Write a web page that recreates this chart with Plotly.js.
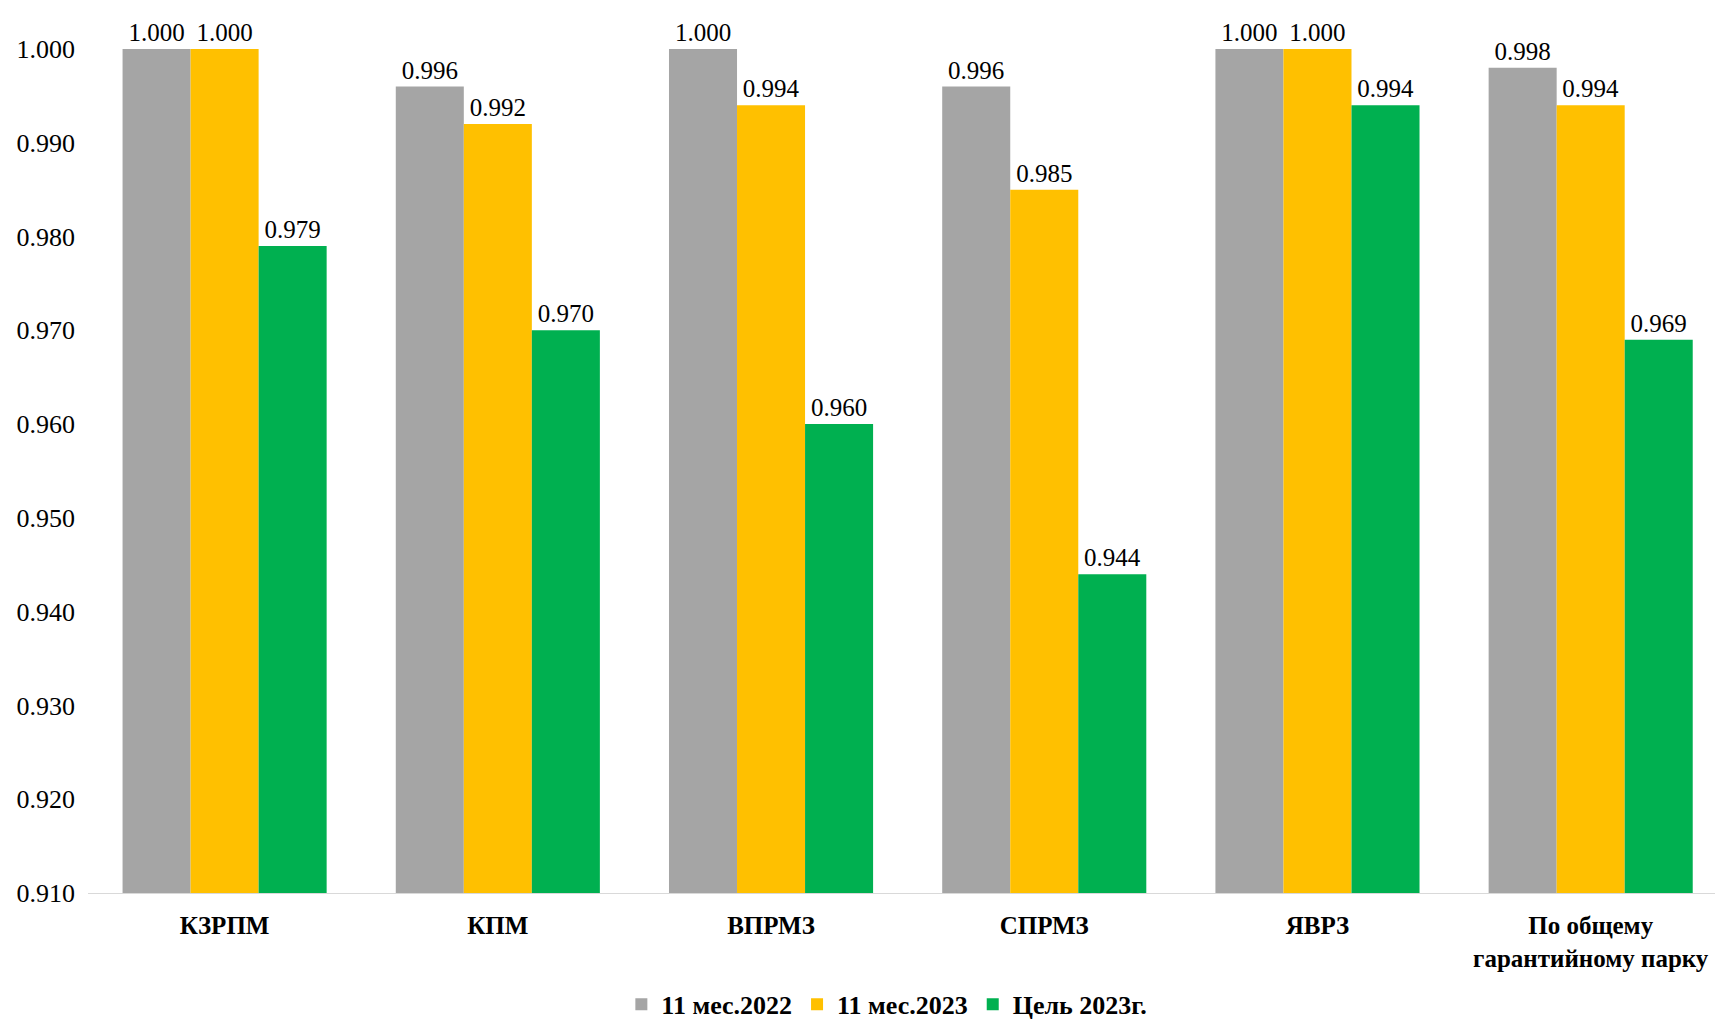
<!DOCTYPE html>
<html>
<head>
<meta charset="utf-8">
<script src="https://cdn.plot.ly/plotly-3.0.1.min.js"></script>
<style>html,body{margin:0;padding:0;background:#fff;}#chart{width:1715px;height:1021px;}</style>
</head>
<body>
<div id="chart"></div>
<script>
const categories = ["КЗРПМ", "КПМ", "ВПРМЗ", "СПРМЗ", "ЯВРЗ", "По общему<br>гарантийному парку"];
const seriesNames = ["11 мес.2022", "11 мес.2023", "Цель 2023г."];
const values2022 = [1.000, 0.996, 1.000, 0.996, 1.000, 0.998];
const values2023 = [1.000, 0.992, 0.994, 0.985, 1.000, 0.994];
const target2023 = [0.979, 0.970, 0.960, 0.944, 0.994, 0.969];
const colors = ["#A5A5A5", "#FFC000", "#00B050"];
const yTicks = [0.910, 0.920, 0.930, 0.940, 0.950, 0.960, 0.970, 0.980, 0.990, 1.000];
const axisMin = 0.910;

const serif = "'Liberation Serif', 'Times New Roman', serif";
const allSeries = [values2022, values2023, target2023];

const traces = allSeries.map((vals, i) => ({
  type: "bar",
  name: seriesNames[i],
  x: categories,
  y: vals.map(v => v - axisMin),
  base: axisMin,
  marker: {color: colors[i]},
  text: vals.map(v => v.toFixed(3)),
  texttemplate: "%{text}",
  textposition: "outside",
  cliponaxis: false,
  textfont: {family: serif, size: 25, color: "#000"},
  hoverinfo: "x+text"
}));

const layout = {
  width: 1715,
  height: 1021,
  margin: {l: 88, r: 0, t: 49, b: 128, autoexpand: false},
  paper_bgcolor: "#fff",
  plot_bgcolor: "#fff",
  barmode: "group",
  bargap: 0.253,
  bargroupgap: 0,
  font: {family: serif, color: "#000"},
  xaxis: {
    range: [-0.5, 5.455],
    automargin: false,
    showline: true,
    linecolor: "#D9D9D9",
    linewidth: 1,
    showgrid: false,
    zeroline: false,
    ticks: "",
    ticklabelstandoff: 10,
    tickfont: {family: serif, size: 25, color: "#000", weight: "bold"}
  },
  yaxis: {
    range: [axisMin, 1.000],
    automargin: false,
    tickvals: yTicks,
    ticktext: yTicks.map(v => v.toFixed(3)),
    showline: false,
    showgrid: false,
    zeroline: false,
    ticks: "",
    ticklabelstandoff: 12,
    tickfont: {family: serif, size: 26, color: "#000"}
  },
  showlegend: true,
  legend: {
    orientation: "h",
    x: 0.491,
    xanchor: "center",
    y: -0.132,
    yanchor: "middle",
    font: {family: serif, size: 26, color: "#000", weight: "bold"},
    itemwidth: 30,
    tracegroupgap: 0,
    bgcolor: "rgba(0,0,0,0)"
  }
};

Plotly.newPlot("chart", traces, layout, {displayModeBar: false, staticPlot: true});
</script>
</body>
</html>
